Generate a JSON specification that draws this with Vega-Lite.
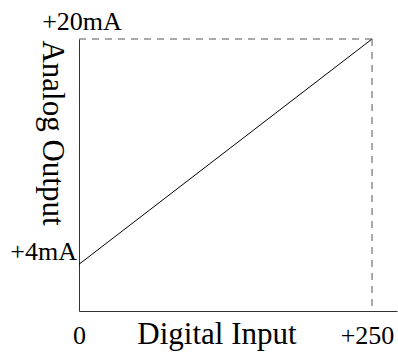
{
  "$schema": "https://vega.github.io/schema/vega-lite/v6.json",
  "width": 318,
  "height": 272,
  "autosize": {"type": "none"},
  "padding": {"left": 79, "top": 39, "right": 1, "bottom": 43},
  "background": "white",
  "config": {
    "view": {"stroke": null},
    "font": "Liberation Serif"
  },
  "datasets": {
    "line": [{"input": 0, "output": 4}, {"input": 250, "output": 20}],
    "top": [{"input": 0, "input2": 250, "output": 20}],
    "right": [{"input": 250}],
    "ylabels": [
      {"input": 0, "output": 20, "label": "+20mA", "kind": "top"},
      {"input": 0, "output": 4, "label": "+4mA", "kind": "side"}
    ]
  },
  "layer": [
    {
      "data": {"name": "line"},
      "mark": {"type": "line", "color": "#000000", "strokeWidth": 1},
      "encoding": {
        "x": {
          "field": "input", "type": "quantitative",
          "scale": {"domain": [0, 271.3], "nice": false, "zero": false},
          "axis": {
            "values": [0, 250],
            "labelExpr": "datum.value == 0 ? '0' : '+250'",
            "labelFont": "Liberation Serif",
            "labelFontSize": 26,
            "labelColor": "#000000",
            "labelBaseline": "alphabetic",
            "labelPadding": 32,
            "labelOffset": {"condition": {"test": "datum.value == 250", "value": -5}, "value": 0},
            "labelFlush": false,
            "labelOverlap": false,
            "ticks": false,
            "tickSize": 0,
            "grid": false,
            "domainColor": "#333333",
            "domainWidth": 1,
            "title": "Digital Input",
            "titleFont": "Liberation Serif",
            "titleFontSize": 31,
            "titleFontWeight": "normal",
            "titleColor": "#000000",
            "titleBaseline": "alphabetic",
            "titleAlign": "center",
            "titleX": 137.5,
            "titleY": 32.5
          }
        },
        "y": {
          "field": "output", "type": "quantitative",
          "scale": {"domain": [0.683, 20], "nice": false, "zero": false},
          "axis": {
            "labels": false,
            "ticks": false,
            "tickSize": 0,
            "grid": false,
            "domainColor": "#333333",
            "domainWidth": 1,
            "title": "Analog Output",
            "titleFont": "Liberation Serif",
            "titleFontSize": 31,
            "titleFontWeight": "normal",
            "titleColor": "#000000",
            "titleAngle": 90,
            "titleBaseline": "alphabetic",
            "titleAlign": "center",
            "titleX": -37,
            "titleY": 93.5
          }
        }
      }
    },
    {
      "data": {"name": "top"},
      "mark": {"type": "rule", "color": "#555555", "strokeWidth": 1, "strokeDash": [7, 6]},
      "encoding": {
        "x": {"field": "input", "type": "quantitative"},
        "x2": {"field": "input2"},
        "y": {"field": "output", "type": "quantitative"}
      }
    },
    {
      "data": {"name": "right"},
      "mark": {"type": "rule", "color": "#555555", "strokeWidth": 1, "strokeDash": [7, 6]},
      "encoding": {
        "x": {"field": "input", "type": "quantitative"}
      }
    },
    {
      "data": {"name": "ylabels"},
      "transform": [{"filter": "datum.kind == 'top'"}],
      "mark": {"type": "text", "font": "Liberation Serif", "fontSize": 26, "color": "#000000", "align": "center", "baseline": "alphabetic", "dx": 3, "dy": -9},
      "encoding": {
        "x": {"field": "input", "type": "quantitative"},
        "y": {"field": "output", "type": "quantitative"},
        "text": {"field": "label"}
      }
    },
    {
      "data": {"name": "ylabels"},
      "transform": [{"filter": "datum.kind == 'side'"}],
      "mark": {"type": "text", "font": "Liberation Serif", "fontSize": 26, "color": "#000000", "align": "right", "baseline": "alphabetic", "dx": -2, "dy": -4},
      "encoding": {
        "x": {"field": "input", "type": "quantitative"},
        "y": {"field": "output", "type": "quantitative"},
        "text": {"field": "label"}
      }
    }
  ]
}
